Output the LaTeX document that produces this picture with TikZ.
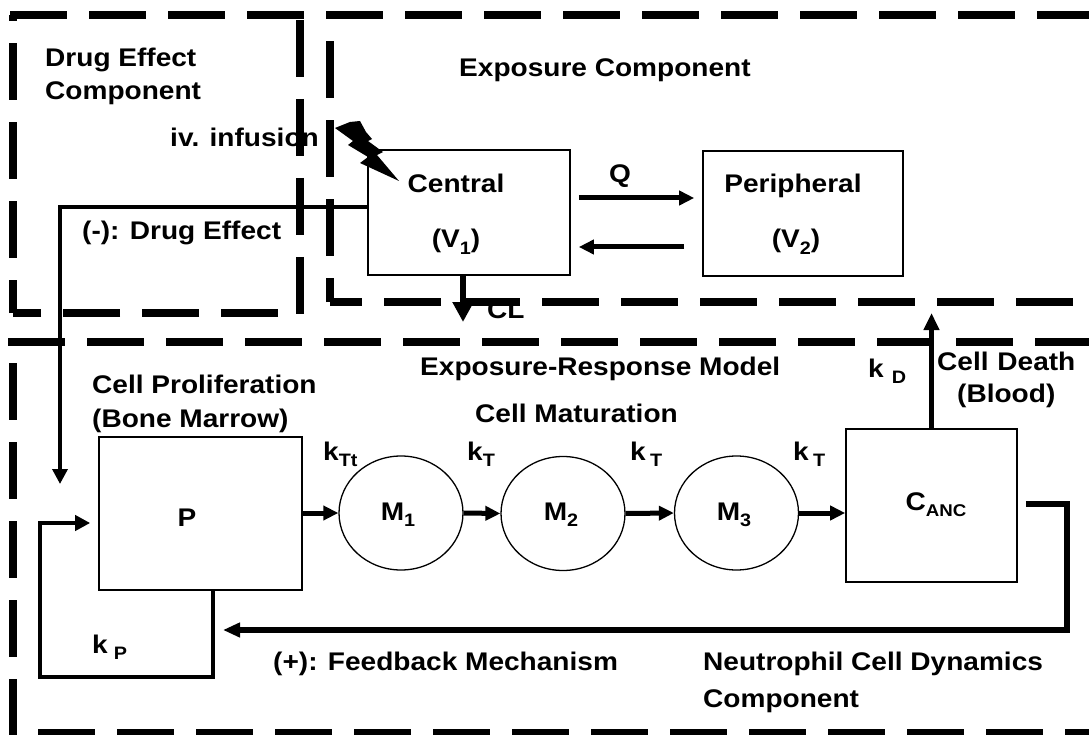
\documentclass[tikz,border=0pt]{standalone}
\usepackage{fontspec}
\setmainfont{Liberation Sans}
\newfontfamily\lab{Liberation Sans}[FakeStretch=1.1]
\usetikzlibrary{arrows.meta,shapes.geometric}

% lowered, smaller index text (V1, M2, C_ANC, k_T ...)
\newcommand\sub[2][-6pt]{\raisebox{#1}{\fontsize{18}{18}\selectfont #2}}

\begin{document}
\begin{tikzpicture}[x=1pt,y=-1pt,
  lab/.style={font=\lab\bfseries\fontsize{25.5}{30}\selectfont, inner sep=0pt, anchor=base west},
  clab/.style={lab, anchor=base},
  box/.style={draw, line width=1.6pt, inner sep=0pt},
  cell/.style={draw, ellipse, line width=1.3pt, inner sep=0pt,
               minimum width=124pt, minimum height=114pt},
  frame/.style={line width=8.5pt, dash pattern=on 57pt off 22pt},
  arr/.style={line width=5pt, -{Triangle[length=15pt,width=14pt]}},
  thin arr/.style={line width=4pt, line join=miter, -{Triangle[length=15pt,width=15pt]}},
]
\useasboundingbox (0,0) rectangle (1089,735);
\clip (0,0) rectangle (1089,735);

% ---- compartments ----
\node[box, minimum width=202pt, minimum height=125pt] (central) at (469,212.5) {};
\node[box, minimum width=200pt, minimum height=125pt] (periph) at (803,213.5) {};
\node[box, minimum width=203pt, minimum height=153pt] (P) at (200.5,513.5) {};
\node[cell] (M1) at (401,513) {};
\node[cell] (M2) at (563,513.5) {};
\node[cell] (M3) at (736.5,513) {};
\node[box, minimum width=171pt, minimum height=153pt] (canc) at (931.5,505.5) {};

% ---- texts ----
\node[lab] (dt1) at (45,67) {Drug Effect};
\node[lab] (dt2) at (45,100) {Component};
\node[lab] (infu) at (170,147) {iv. infusion};
\node[lab] (deff) at (82,240) {(-): Drug Effect};
\node[lab] (etit) at (459,77) {Exposure Component};
\node[clab] (ctext) at (456,193) {Central};
\node[clab] (cvol) at (456,248) {(V\sub{1})};
\node[clab] (ptext) at (793,193) {Peripheral};
\node[clab] (pvol) at (796,248) {(V\sub{2})};
\node[clab] (qlab) at (620,183) {Q};
\node[lab] (cl) at (487,318) {CL};
\node[lab] (erm) at (420,375) {Exposure-Response Model};
\node[lab] (cp1) at (92,393) {Cell Proliferation};
\node[lab] (cp2) at (92,427) {(Bone Marrow)};
\node[lab] (cmat) at (475,422) {Cell Maturation};
\node[lab] (ktt) at (323,460) {k\sub{Tt}};
\node[lab] (kt1) at (467,460) {k\sub{T}};
\node[lab] (kt2) at (630,460) {k\,\sub{T}};
\node[lab] (kt3) at (793,460) {k\,\sub{T}};
\node[lab] (kd) at (868,377) {k\hspace{8pt}\sub{D}};
\node[lab] (cd1) at (937,370) {Cell\hspace{1pt} Death};
\node[lab] (cd2) at (957,402) {(Blood)};
\node[lab, anchor=center] (ptxt) at (187,518) {P};
\node[lab, anchor=center] (m1t) at (398,515) {M\sub{1}};
\node[lab, anchor=center] (m2t) at (561,515) {M\sub{2}};
\node[lab, anchor=center] (m3t) at (734,515) {M\sub{3}};
\node[lab, anchor=center] (canct) at (936,505) {C\raisebox{-6pt}{\fontsize{17}{17}\selectfont ANC}};
\node[lab] (kp) at (92,653) {k\hspace{6pt}\sub{P}};
\node[lab] (fbm) at (273,670) {(+): Feedback Mechanism};
\node[lab] (ncd1) at (703,670) {Neutrophil Cell Dynamics};
\node[lab] (ncd2) at (703,707) {Component};

% ---- helper points ----
\coordinate (qy1) at (0,198);
\coordinate (qy2) at (0,247);
\coordinate (clend) at (463,322);
\coordinate (dec) at (60,207);
\coordinate (detip) at (60,484);
\coordinate (cdtip) at (931.5,313);
\coordinate (fbr) at (1067,504);
\coordinate (fbd) at (1067,630);
\coordinate (fbtip) at (223,630);
\coordinate (pl1) at (213,677);
\coordinate (pl2) at (40,677);
\coordinate (pl3) at (40,523);

% ---- exposure flows ----
\draw[arr, shorten <=8pt, shorten >=8pt] (central.east |- qy1) -- (periph.west |- qy1);
\draw[arr, shorten <=18pt, shorten >=8pt] (periph.west |- qy2) -- (central.east |- qy2);
\draw[line width=6pt, -{Triangle[length=20pt,width=20pt]}] (central.south -| clend) -- (clend);

% iv. infusion bolt
\fill (335,128) -- (350,122) -- (360,121) -- (366,132) -- (372,139) -- (368,141)
      -- (383,152) -- (377,155) -- (399,181) -- (360,163) -- (368,157)
      -- (348,145) -- (353,141) -- cycle;

% drug effect on proliferation
\draw[line width=3.5pt, line join=miter, -{Triangle[length=15pt,width=15pt]}]
  (central.west |- dec) -- (dec) -- (detip);

% ---- maturation chain ----
\draw[arr] (P.east |- M1.west) -- (M1.west);
\draw[arr] (M1.east) -- (M2.west);
\draw[arr] (M2.east) -- (M3.west);
\draw[arr] (M3.east) -- (canc.west |- M3.east);
\draw[line width=4.5pt, -{Triangle[length=17pt,width=15pt]}] (canc.north) -- (cdtip);

% feedback
\draw[line width=5.5pt, line join=miter, shorten <=8pt, -{Triangle[length=17pt,width=14pt]}]
  (canc.east |- fbr) -- (fbr) -- (fbd) -- (fbtip);
\draw[thin arr, shorten >=8pt] (P.south -| pl1) -- (pl1) -- (pl2) -- (pl3) -- (P.west |- pl3);

% ---- dashed component frames ----
\draw[frame] (10,15) -- (1100,15);
\draw[frame] (300,20) -- (300,315);
\draw[frame, dash phase=57pt] (300,313) -- (13,313);
\draw[frame, dash phase=24pt] (13,313) -- (13,15);
\draw[frame, dash phase=33pt] (330,302) -- (330,15);
\draw[frame, dash phase=25pt] (330,302) -- (1100,302);
\draw[frame] (8,342) -- (1100,342);
\draw[frame] (13,363) -- (13,745);
\draw[frame] (38,733) -- (1100,733);
\end{tikzpicture}
\end{document}
